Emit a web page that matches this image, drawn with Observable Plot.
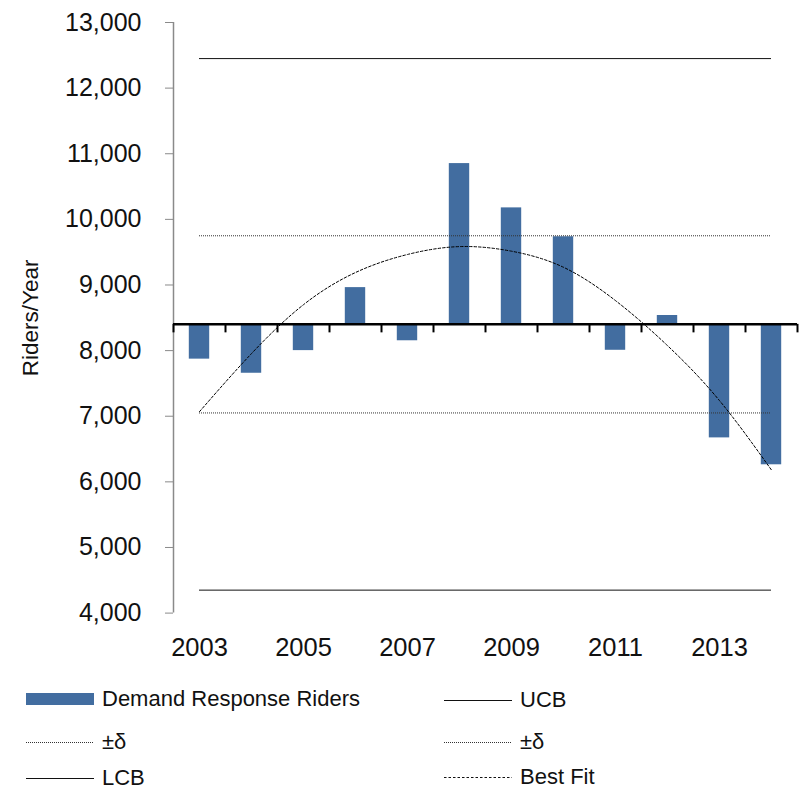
<!DOCTYPE html>
<html>
<head>
<meta charset="utf-8">
<script src="https://cdn.jsdelivr.net/npm/d3@7"></script>
<script src="https://cdn.jsdelivr.net/npm/@observablehq/plot@0.6"></script>
<style>
  body { margin: 0; background: #fff; font-family: "Liberation Sans", Arial, sans-serif; }
  #chart { width: 802px; height: 672px; }
  #legend { position: relative; width: 802px; height: 117px; }
  .item { position: absolute; display: flex; align-items: center; height: 22px; line-height: 22px; font-size: 22px; color: #111; white-space: nowrap; }
  .item svg { margin-right: 8px; display: block; }
</style>
</head>
<body>
<div id="chart"></div>
<div id="legend"></div>
<script>
// ---- data ----
const years = [2003, 2004, 2005, 2006, 2007, 2008, 2009, 2010, 2011, 2012, 2013, 2014];
const riders = [7870, 7655, 8000, 8960, 8150, 10850, 10175, 9735, 8005, 8535, 6670, 6260];
const bestFit = [7070, 7955, 8700, 9190, 9465, 9585, 9515, 9270, 8762, 8076, 7238, 6180];
const meanRiders = 8400;
const ucb = 12450;
const plusDelta = 9750;
const minusDelta = 7050;
const lcb = 4350;
const yTicks = [4000, 5000, 6000, 7000, 8000, 9000, 10000, 11000, 12000, 13000];
const xTickYears = [2003, 2005, 2007, 2009, 2011, 2013];
const yLabel = "Riders/Year";
const legendLabels = ["Demand Response Riders", "UCB", "\u00B1\u03B4", "\u00B1\u03B4", "LCB", "Best Fit"];

const barColor = "#426da0";
const rows = years.map((year, i) => ({year, value: riders[i], fit: bestFit[i]}));
const xDomain = [years[0] - 0.5, years[years.length - 1] + 0.5];
const boundaries = years.map(y => y - 0.5).concat([xDomain[1]]);

const chart = Plot.plot({
  width: 802,
  height: 672,
  marginLeft: 173,
  marginRight: 5,
  marginTop: 22,
  marginBottom: 59.4,
  style: {fontFamily: "'Liberation Sans', Arial, sans-serif", color: "#111", background: "#fff"},
  x: {type: "linear", domain: xDomain},
  y: {domain: [yTicks[0], yTicks[yTicks.length - 1]]},
  marks: [
    // y axis line
    Plot.ruleX([xDomain[0]], {y1: yTicks[0], y2: yTicks[yTicks.length - 1], stroke: "#8a8a8a", strokeWidth: 1.5}),
    Plot.axisY({ticks: yTicks, tickSize: 8, tickPadding: 24, fontSize: 25, stroke: "#8a8a8a", label: null}),
    Plot.axisX({ticks: xTickYears, tickSize: 0, tickPadding: 25, fontSize: 25.5, tickFormat: d => String(d), label: null}),
    Plot.text([yLabel], {text: d => d, frameAnchor: "left", textAnchor: "middle", rotate: -90, dx: -143, fontSize: 22.5, fill: "#111"}),
    // bars from mean
    Plot.rectY(rows, {x1: d => d.year - 0.5, x2: d => d.year + 0.5, y1: meanRiders, y2: "value", insetLeft: 15.8, insetRight: 15.8, fill: barColor}),
    // reference lines
    Plot.ruleY([ucb], {x1: years[0], x2: years[years.length - 1], stroke: "#111", strokeWidth: 1}),
    Plot.ruleY([lcb], {x1: years[0], x2: years[years.length - 1], stroke: "#111", strokeWidth: 1}),
    Plot.ruleY([plusDelta, minusDelta], {x1: years[0], x2: years[years.length - 1], stroke: "#333", strokeWidth: 1, strokeDasharray: "1,1"}),
    // best fit
    Plot.line(rows, {x: "year", y: "fit", curve: "natural", stroke: "#000", strokeWidth: 1, strokeDasharray: "2.5,2"}),
    // baseline axis at mean
    Plot.ruleY([meanRiders], {stroke: "#000", strokeWidth: 2.5}),
    Plot.ruleX(boundaries, {y1: meanRiders, y2: meanRiders, insetTop: 0, insetBottom: -8.5, stroke: "#000", strokeWidth: 2})
  ]
});
document.getElementById("chart").appendChild(chart);

// ---- legend ----
const legend = document.getElementById("legend");
const swatch = (kind) => {
  if (kind === "bar") return `<svg width="68" height="14"><rect x="0" y="1" width="68" height="12" fill="${barColor}"/></svg>`;
  const dash = kind === "solid" ? "" : kind === "dot" ? 'stroke-dasharray="1,1"' : 'stroke-dasharray="2.5,2"';
  const col = kind === "dot" ? "#333" : "#111";
  return `<svg width="68" height="14"><line x1="0" x2="68" y1="7.5" y2="7.5" stroke="${col}" stroke-width="1" ${dash}/></svg>`;
};
const items = [
  {label: legendLabels[0], kind: "bar", left: 26, top: 16},
  {label: legendLabels[1], kind: "solid", left: 444, top: 17},
  {label: legendLabels[2], kind: "dot", left: 26, top: 59},
  {label: legendLabels[3], kind: "dot", left: 444, top: 59},
  {label: legendLabels[4], kind: "solid", left: 26, top: 95},
  {label: legendLabels[5], kind: "dash", left: 444, top: 94}
];
for (const it of items) {
  const div = document.createElement("div");
  div.className = "item";
  div.style.left = it.left + "px";
  div.style.top = it.top + "px";
  div.innerHTML = swatch(it.kind) + `<span>${it.label}</span>`;
  legend.appendChild(div);
}
</script>
</body>
</html>
